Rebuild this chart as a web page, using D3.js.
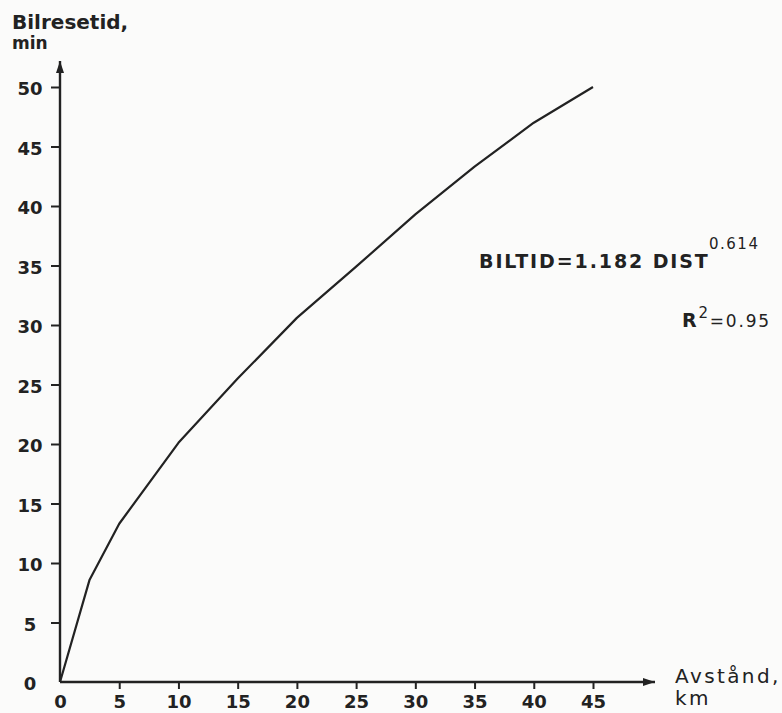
<!DOCTYPE html>
<html lang="sv">
<head>
<meta charset="UTF-8">
<title>Bilresetid mot avstånd</title>
<script src="https://d3js.org/d3.v7.min.js"></script>
<style>
  body { margin: 0; background: #fbfbfa; }
  svg { display: block; }
  text { font-family: "DejaVu Sans", sans-serif; fill: #222; }
</style>
</head>
<body>
<div id="chart"></div>
<script>
// data
const dist = [0, 2.5, 5, 10, 15, 20, 25, 30, 35, 40, 45]
const biltid = [0, 8.6, 13.3, 20.1, 25.5, 30.6, 34.9, 39.3, 43.3, 47.0, 50.0]
const xTicks = [0, 5, 10, 15, 20, 25, 30, 35, 40, 45]
const yTicks = [0, 5, 10, 15, 20, 25, 30, 35, 40, 45, 50]

const width = 782, height = 713
const ink = "#222"

const svg = d3.select("#chart").append("svg")
  .attr("width", width)
  .attr("height", height)

const x = d3.scaleLinear().domain([0, 45]).range([60, 593])
const y = d3.scaleLinear().domain([0, 50]).range([682, 87])

// arrow heads
const defs = svg.append("defs")
defs.append("marker")
  .attr("id", "arrow")
  .attr("viewBox", "0 0 12 8")
  .attr("refX", 12).attr("refY", 4)
  .attr("markerWidth", 12).attr("markerHeight", 8)
  .attr("markerUnits", "userSpaceOnUse")
  .attr("orient", "auto")
  .append("path")
  .attr("d", "M0,0 L12,4 L0,8 Z")
  .attr("fill", ink)

// axis lines
svg.append("line")
  .attr("x1", x(0)).attr("y1", y(0))
  .attr("x2", x(0)).attr("y2", 61)
  .attr("stroke", ink).attr("stroke-width", 2.4)
  .attr("marker-end", "url(#arrow)")

svg.append("line")
  .attr("x1", x(0)).attr("y1", y(0))
  .attr("x2", 655).attr("y2", y(0))
  .attr("stroke", ink).attr("stroke-width", 2.4)
  .attr("marker-end", "url(#arrow)")

// y axis ticks
const yAxis = svg.append("g")
  .attr("transform", `translate(${x(0)},0)`)
  .call(d3.axisLeft(y).tickValues(yTicks).tickSize(9).tickPadding(0))
yAxis.select(".domain").remove()
yAxis.selectAll(".tick line").attr("stroke", ink).attr("stroke-width", 2)
yAxis.selectAll(".tick").filter(d => d == 0).select("line").remove()
yAxis.selectAll(".tick text")
  .attr("x", -30)
  .attr("text-anchor", "middle")
  .attr("dy", "0.42em")
  .style("font-size", "18px")
  .style("font-weight", "bold")
  .style("font-family", "DejaVu Sans")
  .attr("fill", ink)

// x axis ticks
const xAxis = svg.append("g")
  .attr("transform", `translate(0,${y(0)})`)
  .call(d3.axisBottom(x).tickValues(xTicks).tickSize(7).tickPadding(0))
xAxis.select(".domain").remove()
xAxis.selectAll(".tick line").attr("stroke", ink).attr("stroke-width", 2)
xAxis.selectAll(".tick").filter(d => d == 0).select("line").remove()
xAxis.selectAll(".tick text")
  .attr("y", 26)
  .attr("dy", 0)
  .style("font-size", "18px")
  .style("font-weight", "bold")
  .style("font-family", "DejaVu Sans")
  .attr("fill", ink)

// curve
const line = d3.line()
  .x((d, i) => x(dist[i]))
  .y(d => y(d))

svg.append("path")
  .datum(biltid)
  .attr("d", line)
  .attr("fill", "none")
  .attr("stroke", ink)
  .attr("stroke-width", 2.2)
  .attr("stroke-linejoin", "round")

// axis titles
svg.append("text")
  .attr("x", 12).attr("y", 29)
  .style("font-size", "20px").style("font-weight", "bold")
  .text("Bilresetid,")
svg.append("text")
  .attr("x", 12).attr("y", 49)
  .style("font-size", "17px").style("font-weight", "bold")
  .text("min")

svg.append("text")
  .attr("x", 675).attr("y", 683)
  .style("font-size", "20px").style("letter-spacing", "2.4px")
  .text("Avstånd,")
svg.append("text")
  .attr("x", 675).attr("y", 705)
  .style("font-size", "20px").style("letter-spacing", "2.4px")
  .text("km")

// equation
svg.append("text")
  .attr("x", 479).attr("y", 268)
  .style("font-size", "19px").style("font-weight", "bold")
  .style("letter-spacing", "1.9px")
  .text("BILTID=1.182 DIST")
svg.append("text")
  .attr("x", 709).attr("y", 249)
  .style("font-size", "15px")
  .style("letter-spacing", "1.5px")
  .text("0.614")

const r2 = svg.append("text")
  .attr("x", 682).attr("y", 327)
  .style("font-size", "19px")
  .style("letter-spacing", "1.8px")
r2.append("tspan").style("font-weight", "bold").text("R")
r2.append("tspan").attr("dy", -9).style("font-size", "15px").text("2")
r2.append("tspan").attr("dy", 9).style("font-size", "17px").text("=0.95")
</script>
</body>
</html>
